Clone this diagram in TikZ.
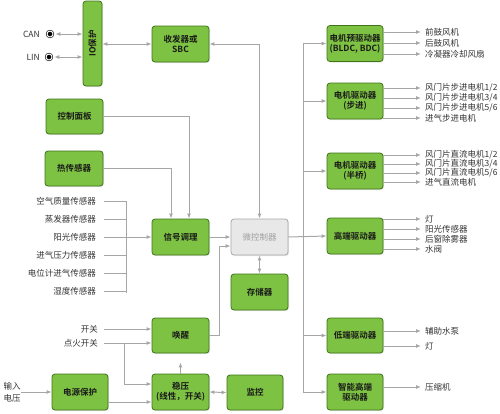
\documentclass[tikz,border=0pt]{standalone}
\usepackage{fontspec}
\setmainfont{Noto Sans CJK SC}[BoldFont={Noto Sans CJK SC Bold}]
\usepackage{graphicx}
\usepackage{tikz}
\usetikzlibrary{positioning, arrows.meta, calc, shadows}
\definecolor{boxFill}{HTML}{7DC242}
\definecolor{boxLine}{HTML}{3F7318}
\definecolor{boxText}{HTML}{1A1A1A}
\definecolor{mcuFill}{HTML}{E8E8E8}
\definecolor{mcuLine}{HTML}{A8A8A8}
\definecolor{mcuText}{HTML}{A0A0A0}
\definecolor{wireGray}{HTML}{A6A6A6}
\definecolor{lblText}{HTML}{333333}

\begin{document}
\begin{tikzpicture}[x=1pt, y=-1pt, blk/.style={draw=boxLine, fill=boxFill, rounded corners=3pt, line width=0.8pt, minimum width=57pt, minimum height=36pt, align=center, inner sep=1pt, font=\fontsize{8.5}{10}\selectfont\bfseries, text=boxText, drop shadow={opacity=0.2, shadow xshift=1pt, shadow yshift=-1pt}},lbl/.style={font=\fontsize{8.5}{10}\selectfont, text=lblText, inner sep=0pt},wire/.style={draw=wireGray, line width=1pt},arr/.style={wire, -{Latex[length=5pt, width=4pt]}},arr2/.style={wire, {Latex[length=5pt, width=4pt]}-{Latex[length=5pt, width=4pt]}},dot/.style={circle, fill=black, draw=black, line width=0.6pt, double=white, double distance=1pt, minimum size=6pt, inner sep=0pt}]
\useasboundingbox (0,0) rectangle (500,413);
\node[blk, minimum width=19pt, minimum height=85pt] (io) at (92.5,43.5) {\rotatebox{90}{IO保护}};
\node[dot] (can) at (50,34) {};
\node[dot] (lin) at (49,57) {};
\node[lbl, anchor=east] (canL) at (40,34) {CAN};
\node[lbl, anchor=east] (linL) at (40,57) {LIN};
\node[blk] (sbc) at (180.5,44) {收发器或\\SBC};
\node[blk, minimum height=35pt] (panel) at (74.5,116.5) {控制面板};
\node[blk, minimum width=58pt, minimum height=35pt] (heat) at (74,168.5) {热传感器};
\node[blk] (sig) at (180.5,237) {信号调理};
\node[blk, fill=mcuFill, draw=mcuLine, text=mcuText, font=\fontsize{8.5}{10}\selectfont] (mcu) at (259.5,237) {微控制器};
\node[blk] (mem) at (259.5,292) {存储器};
\node[blk, minimum height=35pt] (wake) at (180.5,335.5) {唤醒};
\node[blk] (reg) at (180.5,392) {稳压\\(线性，开关)};
\node[blk, minimum width=56pt] (prot) at (80,392) {电源保护};
\node[blk, minimum width=56pt, minimum height=35pt] (mon) at (255,392.5) {监控};
\node[blk, minimum width=56pt] (pre) at (355,43.5) {电机预驱动器\\(BLDC, BDC)};
\node[blk, minimum width=56pt] (step) at (355,101) {电机驱动器\\(步进)};
\node[blk, minimum width=56pt] (half) at (355,171) {电机驱动器\\(半桥)};
\node[blk, minimum width=56pt] (high) at (355,236) {高端驱动器};
\node[blk, minimum width=56pt, minimum height=35pt] (low) at (355,335.5) {低端驱动器};
\node[blk, minimum width=56pt] (smart) at (355,392) {智能高端\\驱动器};
\node[lbl, anchor=east] (s1) at (96,201) {空气质量传感器};
\node[lbl, anchor=east] (s2) at (96,219) {蒸发器传感器};
\node[lbl, anchor=east] (s3) at (96,237) {阳光传感器};
\node[lbl, anchor=east] (s4) at (96,255) {进气压力传感器};
\node[lbl, anchor=east] (s5) at (96,273) {电位计进气传感器};
\node[lbl, anchor=east] (s6) at (96,291) {湿度传感器};
\node[lbl, anchor=east] (sw1) at (98,329) {开关};
\node[lbl, anchor=east] (sw2) at (98,343) {点火开关};
\node[lbl, align=center] (vin) at (12,392) {输入\\[2pt]电压};
\node[lbl, anchor=west] (preA) at (425,32) {前鼓风机};
\node[lbl, anchor=west] (preB) at (425,43) {后鼓风机};
\node[lbl, anchor=west] (preC) at (425,54) {冷凝器冷却风扇};
\node[lbl, anchor=west] (stepA) at (425,88) {风门片步进电机1/2};
\node[lbl, anchor=west] (stepB) at (425,98) {风门片步进电机3/4};
\node[lbl, anchor=west] (stepC) at (425,108) {风门片步进电机5/6};
\node[lbl, anchor=west] (stepD) at (425,118) {进气步进电机};
\node[lbl, anchor=west] (halfA) at (425,155) {风门片直流电机1/2};
\node[lbl, anchor=west] (halfB) at (425,164) {风门片直流电机3/4};
\node[lbl, anchor=west] (halfC) at (425,173) {风门片直流电机5/6};
\node[lbl, anchor=west] (halfD) at (425,182) {进气直流电机};
\node[lbl, anchor=west] (highA) at (425,219) {灯};
\node[lbl, anchor=west] (highB) at (425,229) {阳光传感器};
\node[lbl, anchor=west] (highC) at (425,239) {后窗除雾器};
\node[lbl, anchor=west] (highD) at (425,249) {水阀};
\node[lbl, anchor=west] (lowA) at (425,331) {辅助水泵};
\node[lbl, anchor=west] (lowB) at (425,346) {灯};
\node[lbl, anchor=west] (smartA) at (425,387) {压缩机};
\coordinate (bus) at (303,0);
\coordinate (brk) at (126,0);
\coordinate (ign) at (124,343);
\draw[arr2, shorten <=2pt] (can) -- (io.west |- can);
\draw[arr2, shorten <=2pt] (lin) -- (io.west |- lin);
\draw[arr2] (io.east |- sbc) -- (sbc.west);
\draw[arr2] (sbc.east) -| (mcu.north);
\draw[arr] (panel.east) -| ($(sig.north)+(8.5,0)$);
\draw[arr] (heat.east) -| ($(sig.north)+(-9.5,0)$);
\draw[wire] ([xshift=8pt]s1.east) -- (brk |- s1);
\draw[wire] ([xshift=8pt]s2.east) -- (brk |- s2);
\draw[wire] ([xshift=8pt]s4.east) -- (brk |- s4);
\draw[wire] ([xshift=8pt]s5.east) -- (brk |- s5);
\draw[wire] ([xshift=8pt]s6.east) -- (brk |- s6);
\draw[wire] (brk |- s1) -- ($(brk |- s6)+(0,2)$);
\draw[arr] ([xshift=8pt]s3.east) -- (sig.west);
\draw[arr] (sig.east) -- (mcu.west);
\draw[arr2] (mcu.south) -- (mem.north);
\draw[arr] (wake.east) -- ++(10,0) |- ($(mcu.west)+(0,9)$);
\draw[arr] ([xshift=6pt]sw1.east) -- (wake.west |- sw1);
\draw[arr] ([xshift=6pt]sw2.east) -- (wake.west |- sw2);
\draw[arr] (ign) |- ($(reg.west)+(0,-8)$);
\draw[arr, shorten >=9pt] (reg.north) -- (wake.south);
\draw[arr] (vin.east) -- (prot.west);
\draw[arr] ($(prot.east)+(0,10)$) -- ($(reg.west)+(0,10)$);
\draw[arr2] (reg.east) -- (mon.west);
\draw[arr] (mcu.east) -- (high.west);
\draw[wire] (bus |- pre) -- (bus |- smart);
\draw[arr] (bus |- pre) -- (pre.west);
\draw[arr] (bus |- step) -- (step.west);
\draw[arr] (bus |- half) -- (half.west);
\draw[arr] (bus |- low) -- (low.west);
\draw[arr] (bus |- smart) -- (smart.west);
\draw[arr, shorten >=4pt] (pre.east |- preA) -- (preA.west);
\draw[arr, shorten >=4pt] (pre.east |- preB) -- (preB.west);
\draw[arr, shorten >=4pt] (pre.east |- preC) -- (preC.west);
\draw[arr, shorten >=4pt] (step.east |- stepA) -- (stepA.west);
\draw[arr, shorten >=4pt] (step.east |- stepB) -- (stepB.west);
\draw[arr, shorten >=4pt] (step.east |- stepC) -- (stepC.west);
\draw[arr, shorten >=4pt] (step.east |- stepD) -- (stepD.west);
\draw[arr, shorten >=4pt] (half.east |- halfA) -- (halfA.west);
\draw[arr, shorten >=4pt] (half.east |- halfB) -- (halfB.west);
\draw[arr, shorten >=4pt] (half.east |- halfC) -- (halfC.west);
\draw[arr, shorten >=4pt] (half.east |- halfD) -- (halfD.west);
\draw[arr, shorten >=4pt] (high.east |- highA) -- (highA.west);
\draw[arr, shorten >=4pt] (high.east |- highB) -- (highB.west);
\draw[arr, shorten >=4pt] (high.east |- highC) -- (highC.west);
\draw[arr, shorten >=4pt] (high.east |- highD) -- (highD.west);
\draw[arr, shorten >=4pt] (low.east |- lowA) -- (lowA.west);
\draw[arr, shorten >=4pt] (low.east |- lowB) -- (lowB.west);
\draw[arr, shorten >=4pt] (smart.east |- smartA) -- (smartA.west);
\end{tikzpicture}
\end{document}
